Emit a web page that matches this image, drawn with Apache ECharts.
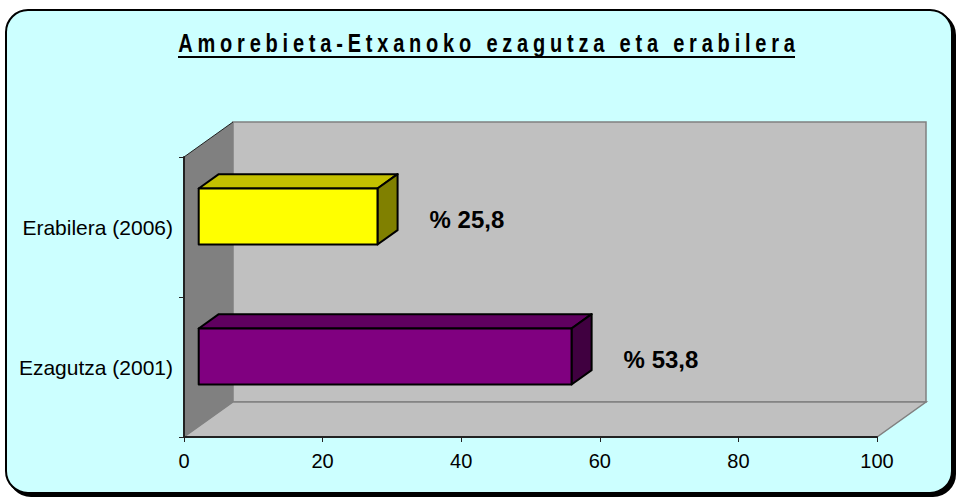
<!DOCTYPE html>
<html>
<head>
<meta charset="utf-8">
<script src="https://cdn.jsdelivr.net/npm/echarts@6/dist/echarts.min.js"></script>
<style>
  html, body { margin: 0; background: #fff; }
  #main { width: 957px; height: 499px; }
</style>
</head>
<body>
<div id="main"></div>
<script>
// datos
const titleText = 'Amorebieta-Etxanoko ezagutza eta erabilera';
const categories = ['Ezagutza (2001)', 'Erabilera (2006)'];
const values = [53.8, 25.8];
const xMin = 0;
const xMax = 100;
const xStep = 20;

// colores de las barras: frente, tapa, lado
const barStyles = [
  { front: '#800080', top: '#600060', side: '#400040' },
  { front: '#FFFF00', top: '#C4C000', side: '#808000' }
];

// profundidad 3D (px)
const DX = 49, DY = -35;
const F1 = 0.3, F2 = 0.71;

function fmt(v) {
  return '% ' + String(v).replace('.', ',');
}

//paredes del grafico
function renderWalls(params, api) {
  let cs = params.coordSys;
  let x0 = cs.x, x1 = cs.x + cs.width, y0 = cs.y, y1 = cs.y + cs.height;
  return {
    type: 'group',
    silent: true,
    children: [
      {
        type: 'rect',
        shape: { x: x0 + DX, y: y0 + DY, width: cs.width, height: cs.height },
        style: { fill: '#C0C0C0', stroke: '#808080', lineWidth: 1.5 }
      },
      {
        type: 'polygon',
        shape: { points: [[x0, y1], [x1, y1], [x1 + DX, y1 + DY], [x0 + DX, y1 + DY]] },
        style: { fill: '#C0C0C0', stroke: '#808080', lineWidth: 1.5 }
      },
      {
        type: 'polygon',
        shape: { points: [[x0, y0], [x0 + DX, y0 + DY], [x0 + DX, y1 + DY], [x0, y1]] },
        style: { fill: '#808080' }
      },
      {
        type: 'line',
        shape: { x1: x0, y1: y0, x2: x0 + DX, y2: y0 + DY },
        style: { stroke: '#222', lineWidth: 1 }
      }
    ]
  };
}

//barras 3D
function renderBar(params, api) {
  let val = api.value(0);
  let cat = api.value(1);
  let p0 = api.coord([xMin, cat]);
  let p1 = api.coord([val, cat]);
  let h = api.size([0, 1])[1] * 0.4;
  let fx = DX * F1, fy = DY * F1, bx = DX * F2, by = DY * F2;
  let t = p0[1] - h / 2 + fy, b = p0[1] + h / 2 + fy;
  let l = p0[0] + fx, r = p1[0] + fx;
  let c = barStyles[params.dataIndex];
  let line = { stroke: '#000', lineWidth: 2, lineJoin: 'round' };
  return {
    type: 'group',
    children: [
      {
        type: 'polygon',
        shape: { points: [[l, t], [r, t], [r + bx - fx, t + by - fy], [l + bx - fx, t + by - fy]] },
        style: Object.assign({ fill: c.top }, line)
      },
      {
        type: 'polygon',
        shape: { points: [[r, t], [r + bx - fx, t + by - fy], [r + bx - fx, b + by - fy], [r, b]] },
        style: Object.assign({ fill: c.side }, line)
      },
      {
        type: 'rect',
        shape: { x: l, y: t, width: r - l, height: b - t },
        style: Object.assign({ fill: c.front }, line)
      },
      {
        type: 'text',
        x: p1[0] + bx + 32,
        y: p0[1] - 8,
        style: {
          text: fmt(val),
          font: 'bold 24px "Liberation Sans"',
          fill: '#000',
          align: 'left',
          verticalAlign: 'middle'
        }
      }
    ]
  };
}

let chart = echarts.init(document.getElementById('main'), null, { renderer: 'svg' });

let option = {
  backgroundColor: '#ffffff',
  animation: false,
  graphic: [
    {
      type: 'rect',
      z: -100,
      silent: true,
      shape: { x: 6, y: 10, width: 946, height: 483, r: 22 },
      style: {
        fill: '#CCFFFF',
        stroke: '#000',
        lineWidth: 2,
        shadowColor: '#000',
        shadowOffsetX: 3,
        shadowOffsetY: 3,
        shadowBlur: 0
      }
    },
    {
      //titulo (letra de Excel: alta y estrecha)
      type: 'text',
      x: 489,
      y: 44,
      scaleX: 0.8,
      silent: true,
      style: {
        text: titleText,
        font: 'bold 25px "Liberation Sans"',
        fill: '#000',
        align: 'center',
        verticalAlign: 'middle'
      }
    },
    {
      //subrayado del titulo
      type: 'line',
      silent: true,
      shape: { x1: 178, y1: 57, x2: 795, y2: 57 },
      style: { stroke: '#000', lineWidth: 2 }
    }
  ],
  grid: {
    left: 184,
    right: 80,
    top: 157,
    bottom: 62
  },
  xAxis: {
    type: 'value',
    min: xMin,
    max: xMax,
    interval: xStep,
    axisLine: { show: true, lineStyle: { color: '#222', width: 2 } },
    axisTick: { show: true, length: 5, lineStyle: { color: '#222' } },
    axisLabel: {
      margin: 14,
      fontSize: 20,
      fontFamily: 'Liberation Sans',
      color: '#000'
    },
    splitLine: { show: false }
  },
  yAxis: {
    type: 'category',
    data: categories,
    axisLine: { show: true, lineStyle: { color: '#222', width: 2 } },
    axisTick: { show: true, length: 5, lineStyle: { color: '#222' } },
    axisLabel: {
      margin: 11,
      fontSize: 21,
      fontFamily: 'Liberation Sans',
      color: '#000'
    },
    splitLine: { show: false }
  },
  series: [
    {
      type: 'custom',
      z: -1,
      silent: true,
      renderItem: renderWalls,
      data: [[xMin, 0]]
    },
    {
      type: 'custom',
      z: 3,
      renderItem: renderBar,
      encode: { x: 0, y: 1 },
      data: values.map((v, i) => [v, i])
    }
  ]
};

chart.setOption(option);

// el titulo de Excel lleva espaciado entre letras
function applySpacing() {
  let texts = chart.getDom().querySelectorAll('text');
  texts.forEach(el => {
    if (el.textContent !== titleText) return;
    el.setAttribute('letter-spacing', '6px');
    el.style.letterSpacing = '6px';
  });
}
applySpacing();
chart.on('finished', applySpacing);
</script>
</body>
</html>
